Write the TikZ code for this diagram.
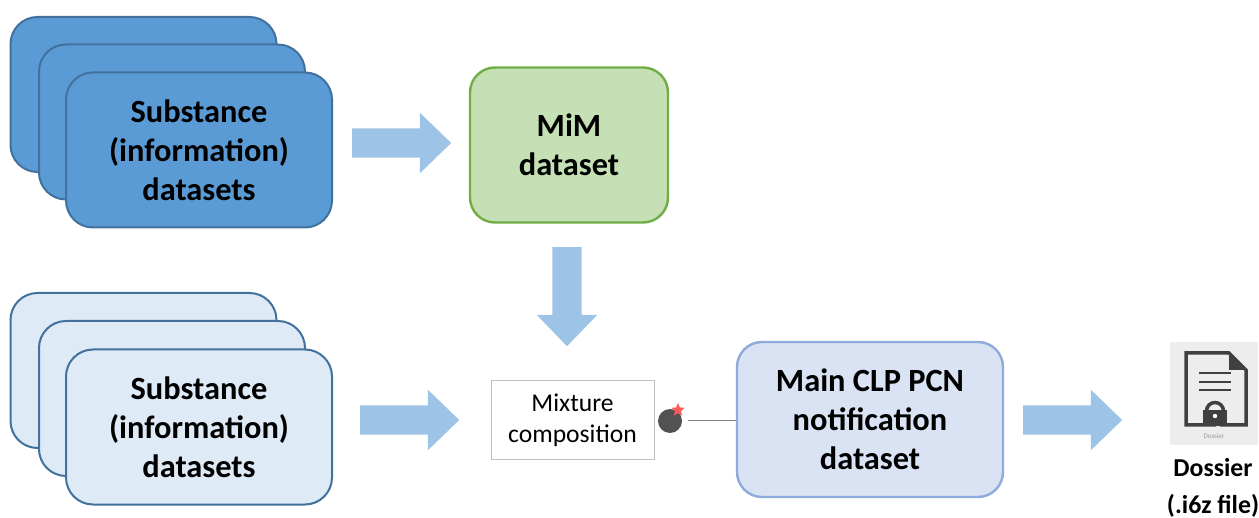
\documentclass[tikz,border=0pt]{standalone}
\usepackage{fontspec}
\setmainfont{Carlito}
\usetikzlibrary{shapes,shapes.geometric,arrows.meta,positioning,calc}
\definecolor{darkblue}{HTML}{5B9BD5}
\definecolor{darkedge}{HTML}{41719C}
\definecolor{paleblue}{HTML}{DEEAF6}
\definecolor{mimfill}{HTML}{C5E0B4}
\definecolor{mimedge}{HTML}{70AD47}
\definecolor{mainfill}{HTML}{DAE3F3}
\definecolor{mainedge}{HTML}{8FAADC}
\definecolor{arrowblue}{HTML}{9DC3E6}
\definecolor{icongray}{HTML}{EDEDED}
\definecolor{icondark}{HTML}{404040}

\begin{document}
\begin{tikzpicture}[
    x=1pt, y=-1pt,
    font=\fontsize{32.4}{39}\selectfont\bfseries,
    stack/.style={rectangle, draw=darkedge, line width=2pt, rounded corners=27pt, minimum width=266pt, minimum height=155pt, align=center, inner sep=0pt},
    dsdark/.style={stack, fill=darkblue},
    dslight/.style={stack, fill=paleblue},
    bigbox/.style={rectangle, line width=2.4pt, rounded corners=25pt, minimum height=155pt, align=center, inner sep=0pt},
    flow/.style={single arrow, anchor=tail, fill=arrowblue, draw=none, minimum height=99pt, minimum width=60pt, single arrow head extend=15.5pt, single arrow tip angle=88, inner sep=0pt, text height=29pt, text depth=0pt},
    caption/.style={font=\fontsize{25.8}{30}\selectfont\bfseries, inner sep=0pt}
]
    \useasboundingbox (0,0) rectangle (1259,518);

    % --- Top: filled stack ---
    \node[dsdark] (topback) at (143.5,94.5) {};
    \node[dsdark] (topmid) at (172,122) {};
    \node[dsdark] (topfront) at (199,150) {Substance\\(information)\\datasets};
    \node[flow] (toparrow) at (352,143) {};

    % --- MiM ---
    \node[bigbox, draw=mimedge, fill=mimfill, minimum width=198pt] (mim) at (569,145) {MiM\\dataset};
    \node[flow, rotate=-90] (downarrow) at (567,247) {};

    % --- Bottom: pale stack ---
    \node[dslight] (lowback) at (143.5,370.5) {};
    \node[dslight] (lowmid) at (172,398.5) {};
    \node[dslight] (lowfront) at (199,427) {Substance\\(information)\\datasets};
    \node[flow] (lowarrow) at (360,420) {};

    % Mixture box and marker
    \node[rectangle, draw=black!25, line width=1pt, fill=white, minimum width=163pt, minimum height=79pt, align=center, inner sep=0pt, font=\fontsize{25.6}{31}\selectfont] (mixture) at (572.5,420.5) {Mixture\\composition};
    \node[circle, fill=black!68, minimum size=24pt, inner sep=0pt] (marker) at (670,421) {};
    \node[star, star points=5, star point ratio=2.2, fill=red!65, minimum size=14pt, inner sep=0pt] (markerstar) at (678,410) {};

    % --- Main dataset ---
    \node[bigbox, draw=mainedge, fill=mainfill, minimum width=266pt] (main) at (870,419.5) {Main CLP PCN\\notification\\dataset};
    \coordinate (linestart) at (688,421);
    \draw[black!50, line width=1pt] (linestart) -- (main.west |- linestart);
    \node[flow] (mainarrow) at (1023,420) {};

    % --- Dossier icon ---
    \node[rectangle, fill=icongray, minimum width=88pt, minimum height=103pt, inner sep=0pt] (icon) at (1214,393.5) {};
    \draw[icondark, line width=3.5pt] (1216,425) -- (1186,425) -- (1186,353) -- (1229,353) -- (1246,370) -- (1246,425) -- (1220,425);
    \fill[icondark] (1229,353) -- (1246,370) -- (1229,370) -- cycle;
    \foreach \liney in {373,382,390} {
        \draw[icondark, line width=2.5pt] (1199,\liney) -- (1231,\liney);
    }
    \draw[icondark, line width=3.5pt] (1206.5,411) arc[start angle=180, end angle=360, radius=8.5];
    \fill[icondark] (1203,410) rectangle (1227,426);
    \fill[white] (1215,416) circle[radius=2.2];
    \node[inner sep=0pt, text=black!40, font=\fontsize{7}{8}\selectfont] (icontext) at (1214,436) {Dossier};

    \node[caption] (dossier) at (1213,468) {Dossier};
    \node[caption] (filetype) at (1213,506) {(.i6z file)};
\end{tikzpicture}
\end{document}
